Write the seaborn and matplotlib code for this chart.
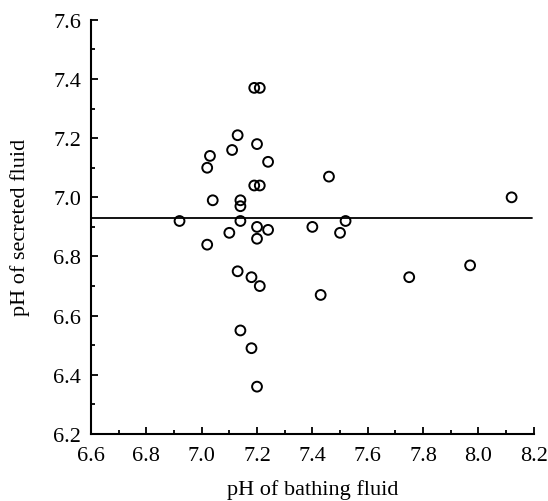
import matplotlib
matplotlib.use("Agg")
import matplotlib.pyplot as plt
import seaborn as sns
from matplotlib.ticker import MultipleLocator, FormatStrFormatter

# pH values
bathing_ph = [7.19, 7.21, 7.13, 7.11, 7.20, 7.03, 7.02, 7.24, 7.19, 7.21,
              7.04, 7.14, 7.14, 6.92, 7.14, 7.10, 7.20, 7.24, 7.20, 7.02,
              7.13, 7.18, 7.21, 7.14, 7.18, 7.20, 7.46, 8.12, 7.40,
              7.52, 7.50, 7.75, 7.97, 7.43]
secreted_ph = [7.37, 7.37, 7.21, 7.16, 7.18, 7.14, 7.10, 7.12, 7.04, 7.04,
               6.99, 6.99, 6.97, 6.92, 6.92, 6.88, 6.90, 6.89, 6.86, 6.84,
               6.75, 6.73, 6.70, 6.55, 6.49, 6.36, 7.07, 7.00, 6.90,
               6.92, 6.88, 6.73, 6.77, 6.67]
mean_line = 6.93

sns.set_theme(style="ticks")
plt.rcParams['font.family'] = ['Liberation Serif', 'DejaVu Serif']

fig = plt.figure(figsize=(5.48, 5.02), dpi=100)
ax = fig.add_axes([0.166, 0.1335, 0.808, 0.825])

sns.scatterplot(x=bathing_ph, y=secreted_ph, ax=ax, marker='o', s=50,
                facecolor='none', edgecolor='black', linewidth=1.4, zorder=3)
ax.axhline(mean_line, xmin=0, xmax=0.995, color='black', lw=1.3)

ax.set_xlim(6.6, 8.2)
ax.set_ylim(6.2, 7.6)
ax.xaxis.set_major_locator(MultipleLocator(0.2))
ax.xaxis.set_minor_locator(MultipleLocator(0.1))
ax.yaxis.set_major_locator(MultipleLocator(0.2))
ax.yaxis.set_minor_locator(MultipleLocator(0.1))
ax.tick_params(which='both', direction='in', color='black', width=1.3,
               labelsize=16, labelcolor='black')
ax.tick_params(which='major', length=5)
ax.tick_params(which='minor', length=3)
ax.tick_params(axis='x', pad=9)
ax.tick_params(axis='y', pad=7)
ax.xaxis.set_major_formatter(FormatStrFormatter('%.1f'))
ax.yaxis.set_major_formatter(FormatStrFormatter('%.1f'))

for side in ['top', 'right']:
    ax.spines[side].set_visible(False)
for side in ['left', 'bottom']:
    ax.spines[side].set_color('black')
    ax.spines[side].set_linewidth(1.5)

ax.set_xlabel('pH of bathing fluid', fontsize=16, color='black', labelpad=10)
ax.set_ylabel('pH of secreted fluid', fontsize=16, color='black', labelpad=17)

fig.savefig('out.png', dpi=100)
